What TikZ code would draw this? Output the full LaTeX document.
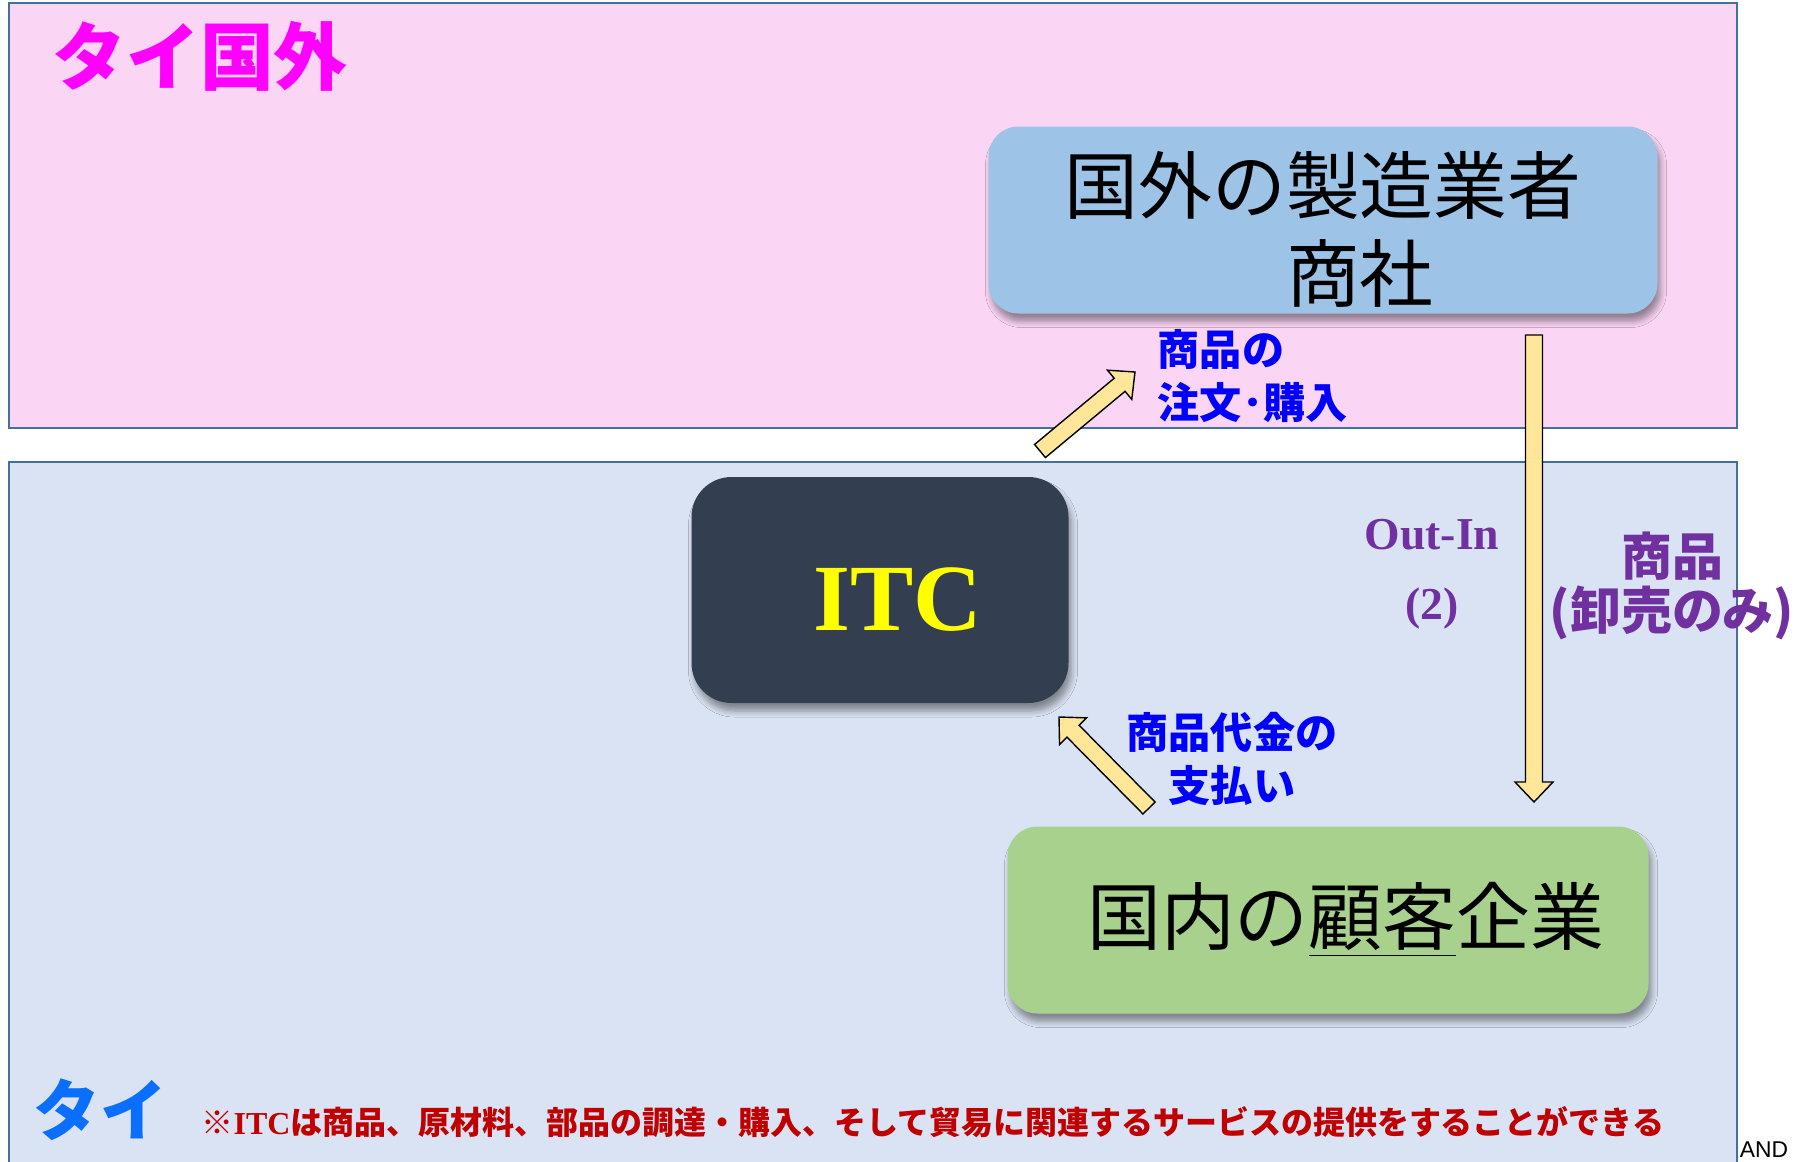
\documentclass[tikz,border=0pt]{standalone}
\usepackage{fontspec}
\setmainfont{Liberation Serif}
\newfontfamily\jpfont{Noto Sans CJK JP}
\newfontfamily\andfont{Liberation Sans}
\usetikzlibrary{calc,shadows.blur}

\definecolor{frameblue}{HTML}{41719C}
\definecolor{pinkzone}{HTML}{FBD5F4}
\definecolor{bluezone}{HTML}{DAE3F3}
\definecolor{abroadpink}{HTML}{FF00FF}
\definecolor{mfrblue}{HTML}{9DC3E6}
\definecolor{custgreen}{HTML}{A9D18E}
\definecolor{itcdark}{HTML}{333F50}
\definecolor{itcyellow}{HTML}{FFFF00}
\definecolor{arrowyellow}{HTML}{FFE699}
\definecolor{labelblue}{HTML}{0000FF}
\definecolor{labelpurple}{HTML}{7030A0}
\definecolor{thaiblue}{HTML}{0A6EFF}
\definecolor{notered}{HTML}{C00000}

%% block arrow from a tail coordinate to a tip coordinate
\newcommand{\bigarrow}[2]{%
	\coordinate (#2-base) at ($(#2)!2mm!(#1)$);
	\draw[goodsarrow] ($(#1)!0.85mm!90:(#2)$) -- ($(#2-base)!0.85mm!90:(#2)$) -- ($(#2-base)!1.9mm!90:(#2)$) -- (#2) -- ($(#2-base)!1.9mm!-90:(#2)$) -- ($(#2-base)!0.85mm!-90:(#2)$) -- ($(#1)!0.85mm!-90:(#2)$) -- cycle;
}

\begin{document}
\begin{tikzpicture}[x=0.1mm,y=-0.1mm,
	zonebox/.style={draw=frameblue, line width=0.75pt},
	roundbox/.style={rounded corners=3mm, inner sep=0pt, text=black, font=\jpfont\fontsize{21}{25}\selectfont, blur shadow={shadow xshift=0.3mm, shadow yshift=-0.8mm, shadow blur radius=0.6mm, shadow blur steps=6, shadow opacity=40}},
	goodsarrow/.style={fill=arrowyellow, draw=black, line width=0.4pt},
	bluelabel/.style={inner sep=0pt, text=labelblue, font=\jpfont\bfseries\fontsize{12}{15}\selectfont}]
	\useasboundingbox (0,0) rectangle (1799,1162);
	\begin{scope}
	%% the two zones, abroad on top and Thailand below
	\filldraw[zonebox, fill=pinkzone] (9,3) rectangle (1737,428);
	\fill[bluezone] (9,462) rectangle (1737,1162);
	\draw[zonebox] (9,1162) -- (9,462) -- (1737,462) -- (1737,1162);
	\node[inner sep=0pt, text=abroadpink, font=\jpfont\bfseries\fontsize{21}{25}\selectfont] (abroad) at (200,56) {タイ国外};
	\node[inner sep=0pt, text=thaiblue, font=\jpfont\bfseries\fontsize{19}{22}\selectfont] (thai) at (100,1110) {タイ};
	\end{scope}

	\node[roundbox, fill=mfrblue, minimum width=66.9mm, minimum height=18.7mm, text height=47.8pt, align=center] (mfr) at (1323,220) {国外の製造業者\\\hspace*{21pt}商社};
	\node[roundbox, fill=itcdark, rounded corners=4mm, minimum width=37.7mm, minimum height=22.6mm, text height=23pt, text depth=0pt, text=itcyellow, font=\bfseries\fontsize{27}{30}\selectfont] (itc) at (880,590) {\hspace*{10pt}ITC};
	\node[roundbox, fill=custgreen, minimum width=64.1mm, minimum height=18.7mm] (cust) at (1328,920) {\hspace*{10pt}国内の\underline{顧客}企業};

	\coordinate (ordtail) at (1040,451);
	\coordinate (ordtip) at (1135,372);
	\coordinate (paytail) at (1149,808);
	\coordinate (paytip) at (1059,717);
	\coordinate (goodstail) at (1534,335);
	\coordinate (goodstip) at (1534,802);
	\bigarrow{ordtail}{ordtip}
	\bigarrow{paytail}{paytip}
	\bigarrow{goodstail}{goodstip}

	\node[bluelabel, anchor=west, align=left] (orderlbl) at (1157,376) {商品の\\注文･購入};
	\node[bluelabel, align=center] (paylbl) at (1232,759) {商品代金の\\支払い};
	\node[inner sep=0pt, text=labelpurple, font=\bfseries\fontsize{13}{20}\selectfont, align=center] (outin) at (1432,574) {Out-In\\(2)};
	\node[inner sep=0pt, text=labelpurple, font=\jpfont\bfseries\fontsize{14.5}{15.6}\selectfont, align=center] (goodslbl) at (1672,586) {商品\\(卸売のみ)};
	\node[anchor=west, inner sep=0pt, text=notered, font=\jpfont\bfseries\fontsize{9.1}{11}\selectfont] (note) at (201,1122) {※{\rmfamily ITC}は商品、原材料、部品の調達・購入、そして貿易に関連するサービスの提供をすることができる};
	\node[inner sep=0pt, font=\andfont\fontsize{6.5}{7}\selectfont] (andmark) at (1764,1150) {AND};
\end{tikzpicture}
\end{document}
